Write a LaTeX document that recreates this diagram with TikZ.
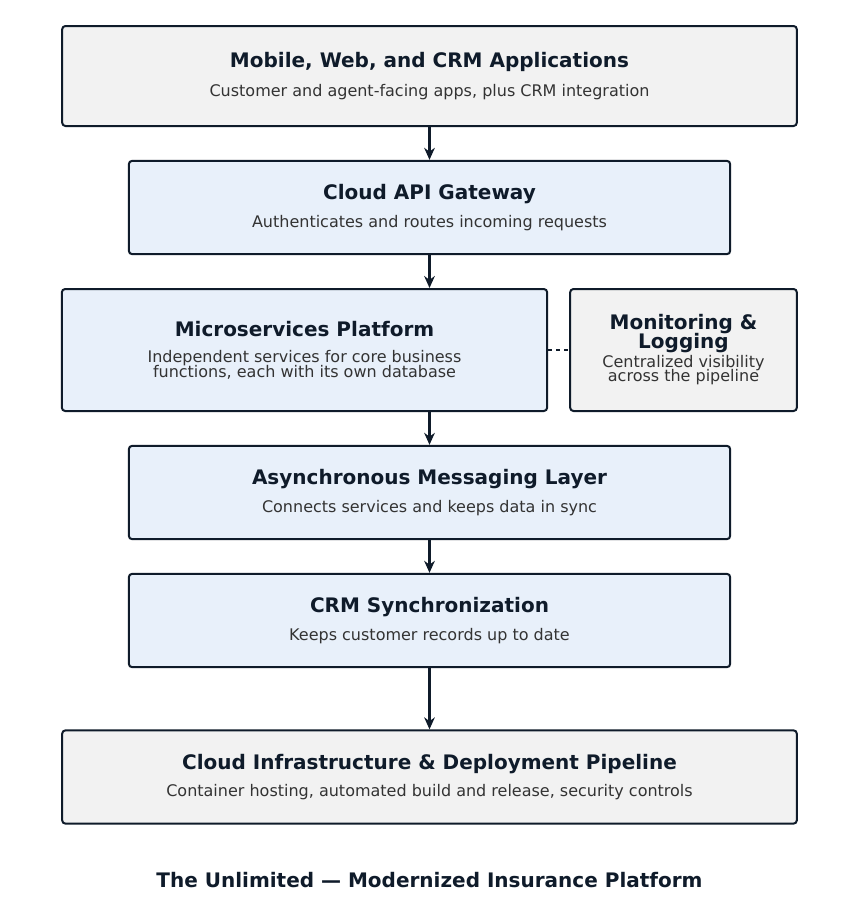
\documentclass[tikz,border=0pt]{standalone}
\usepackage{fontspec}
\setmainfont{DejaVu Sans}
\usetikzlibrary{positioning,arrows.meta}
\definecolor{navy}{HTML}{0F1B2A}
\definecolor{subgray}{HTML}{333333}
\definecolor{boxgray}{HTML}{F2F2F2}
\definecolor{boxblue}{HTML}{E8F0FA}
\tikzset{
	layer/.style={draw=navy, line width=1.5pt, rounded corners=2.5pt, align=center, inner sep=2pt},
	graylayer/.style={layer, fill=boxgray},
	bluelayer/.style={layer, fill=boxblue},
	flow/.style={-{Stealth[length=9pt,width=8pt]}, draw=navy, line width=1.6pt},
}
\newcommand{\heading}[1]{{\fontsize{15}{17}\selectfont\bfseries\color{navy}#1}}
\newcommand{\subline}[1]{{\fontsize{12}{13}\selectfont\color{subgray}#1}}

\begin{document}
\begin{tikzpicture}[x=0.75pt, y=-0.75pt]
	\useasboundingbox (0,0) rectangle (860,903);
	\node[graylayer, minimum width=551pt, minimum height=75pt] (apps) at (429.5,76)
		{\heading{Mobile, Web, and CRM Applications}\\[9pt]\subline{Customer and agent-facing apps, plus CRM integration}};
	\node[bluelayer, minimum width=451pt, minimum height=70pt] (gateway) at (429.5,207.5)
		{\heading{Cloud API Gateway}\\[7pt]\subline{Authenticates and routes incoming requests}};
	\node[bluelayer, minimum width=364pt, minimum height=91.5pt] (micro) at (304.5,350)
		{\heading{Microservices Platform}\\[8pt]\subline{Independent services for core business}\\[-1pt]\subline{functions, each with its own database}};
	\node[graylayer, minimum width=170pt, minimum height=91.5pt] (monitor) at (683.5,350)
		{\heading{Monitoring \&}\\[-2pt]\heading{Logging}\\[1pt]\subline{Centralized visibility}\\[-1pt]\subline{across the pipeline}};
	\node[bluelayer, minimum width=451pt, minimum height=70pt] (msg) at (429.5,492.5)
		{\heading{Asynchronous Messaging Layer}\\[7pt]\subline{Connects services and keeps data in sync}};
	\node[bluelayer, minimum width=451pt, minimum height=70pt] (crm) at (429.5,620.5)
		{\heading{CRM Synchronization}\\[7pt]\subline{Keeps customer records up to date}};
	\node[graylayer, minimum width=551pt, minimum height=70pt] (infra) at (429.5,777)
		{\heading{Cloud Infrastructure \& Deployment Pipeline}\\[7pt]\subline{Container hosting, automated build and release, security controls}};
	\node (caption) at (429.5,880) {\heading{The Unlimited — Modernized Insurance Platform}};

	\draw[flow] (apps) -- (gateway);
	\draw[flow] (gateway.south) -- (gateway.south |- micro.north);
	\draw[flow] (msg.north |- micro.south) -- (msg.north);
	\draw[flow] (msg) -- (crm);
	\draw[flow] (crm) -- (infra);
	\draw[navy, line width=1.4pt, dashed] (micro) -- (monitor);
\end{tikzpicture}
\end{document}
